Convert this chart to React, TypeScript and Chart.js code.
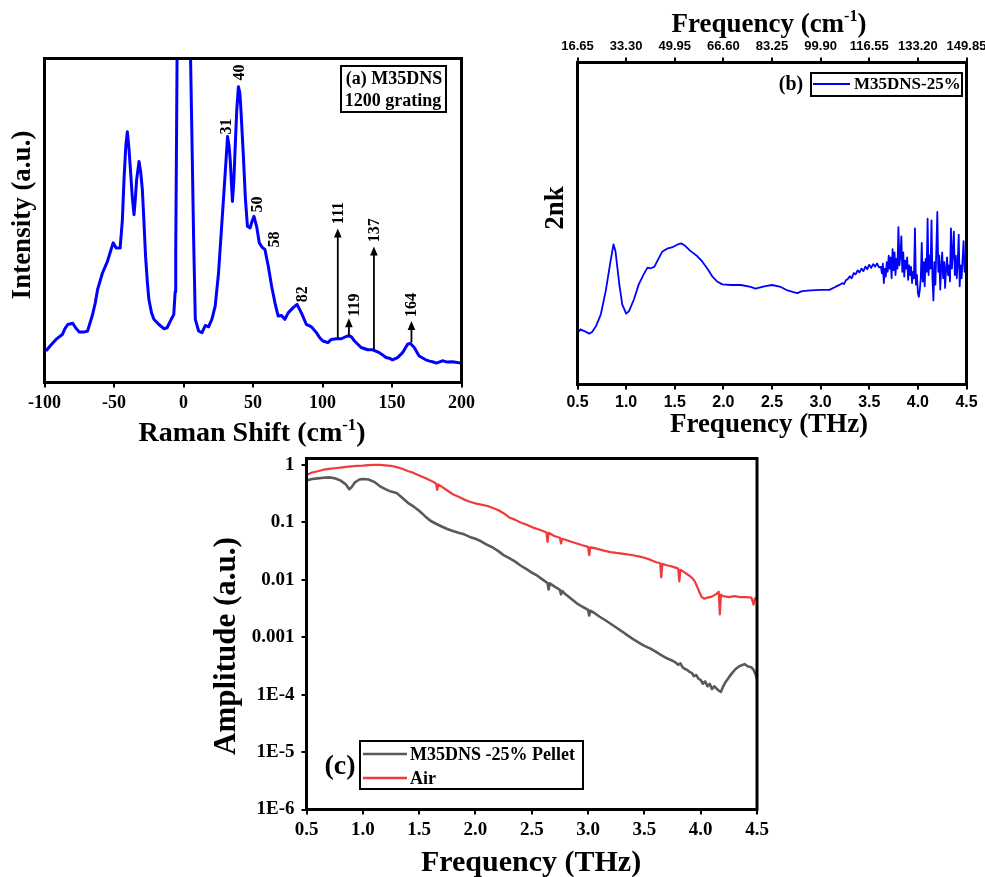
import React, { useEffect, useRef } from "react";
import { Chart, registerables } from "chart.js";

Chart.register(...registerables);

const SERIF = '"Liberation Serif", "Times New Roman", Times, serif';
const SANS = '"Liberation Sans", Arial, Helvetica, sans-serif';

// ---------------- (a) Raman spectrum ----------------
const ramanShift = [
  -99.0, -95.5, -91.7, -87.0, -85.5, -83.3, -79.7, -77.5, -75.0, -71.0, -69.0, -65.4, -63.5, -61.8,
  -58.3, -54.7, -52.5, -50.6, -48.5, -45.6, -44.0, -42.8, -41.5, -40.4, -39.2, -38.0, -36.8, -35.6,
  -34.6, -33.7, -32.0, -30.8, -29.6, -28.5, -27.3, -26.0, -24.9, -23.0, -21.3, -17.7, -14.1, -11.8,
  -9.4, -7.0, -6.0, -5.6, -5.1, -4.6, 0.0, 5.0, 6.1, 7.3, 8.5, 10.9, 13.3, 15.7, 18.0, 20.4, 22.8,
  25.2, 27.6, 30.0, 31.7, 32.8, 33.6, 35.2, 36.2, 37.1, 38.3, 39.5, 40.5, 41.2, 43.1, 44.5, 46.0,
  47.9, 49.5, 50.7, 52.6, 54.5, 56.5, 58.6, 61.0, 63.4, 65.8, 68.1, 70.5, 72.9, 75.3, 78.9, 81.7,
  84.8, 88.4, 90.0, 92.0, 95.6, 98.0, 100.3, 103.9, 106.3, 109.9, 113.5, 117.0, 119.4, 121.0, 123.0,
  127.8, 132.5, 136.1, 140.9, 143.0, 145.7, 148.0, 150.4, 154.0, 157.6, 161.2, 163.1, 166.0, 169.5,
  174.3, 177.0, 179.1, 182.0, 186.2, 190.0, 193.4, 197.0, 200.0,
];
const ramanIntensity = [
  9.7, 11.5, 13.3, 14.9, 16.5, 17.9, 18.3, 16.8, 15.6, 15.6, 15.9, 21.0, 24.5, 28.7,
  33.8, 37.4, 40.5, 43.1, 41.5, 41.5, 50.0, 62.6, 73.0, 77.4, 72.0, 64.6, 57.0, 51.8,
  57.0, 62.6, 68.2, 65.0, 59.5, 50.0, 39.0, 31.0, 25.6, 21.5, 19.5, 17.9, 16.6, 16.9,
  19.0, 21.0, 28.0, 40.0, 70.0, 102, 400, 102, 74.9, 44.0, 19.5, 15.9, 15.4, 17.6, 17.2, 19.5, 23.6,
  33.8, 49.2, 64.6, 75.9, 73.0, 68.7, 55.9, 62.0, 71.8, 84.0, 91.3, 89.5, 85.1, 69.7, 57.0, 48.2,
  47.7, 50.0, 51.3, 48.2, 43.1, 41.8, 41.0, 35.9, 29.7, 24.6, 20.5, 20.7, 19.5, 21.5, 23.1, 24.1,
  21.5, 17.9, 17.6, 17.2, 15.4, 13.8, 12.8, 12.3, 13.3, 13.5, 13.5, 14.2, 14.4, 14.0, 12.8,
  10.8, 10.1, 10.1, 9.2, 8.6, 7.7, 7.5, 7.0, 7.7, 9.2, 11.8, 12.1, 10.8, 8.2,
  7.0, 6.6, 6.4, 6.0, 6.7, 6.3, 6.4, 6.2, 5.9,
];
const ramanTicks = [-100, -50, 0, 50, 100, 150, 200];
const peakLabels = ["31", "40", "50", "58", "82", "111", "119", "137", "164"];
const peakLabelShift = [31.0, 40.5, 53.8, 65.8, 86.0, 111.8, 123.0, 138.0, 164.0];
const peakLabelLevel = [79.0, 95.7, 54.9, 44.1, 27.2, 52.3, 23.9, 47.0, 23.9];
const arrowShift = [111, 119, 137, 164];
const arrowBase = [13.8, 14.6, 10.2, 12.4];
const arrowTip = [47.5, 19.8, 42.0, 19.0];

// ---------------- (b) 2nk ----------------
const nkFreq = [
  0.50, 0.53, 0.57, 0.62, 0.65, 0.69, 0.74, 0.79, 0.84, 0.87, 0.89, 0.93, 0.96, 1.00, 1.03, 1.08,
  1.13, 1.18, 1.22, 1.25, 1.29, 1.32, 1.37, 1.43, 1.48, 1.53, 1.57, 1.61, 1.66, 1.73, 1.78, 1.84,
  1.89, 1.94, 1.99, 2.08, 2.18, 2.28, 2.33, 2.42, 2.50, 2.59, 2.66, 2.72, 2.76, 2.81, 2.90, 3.00,
  3.09, 3.15, 3.20, 3.22, 3.24, 3.26, 3.28, 3.30, 3.32, 3.34, 3.36, 3.38, 3.40, 3.42, 3.44, 3.46,
  3.48, 3.50, 3.52, 3.54, 3.56, 3.58, 3.60,
  3.62, 3.63, 3.64, 3.65, 3.66, 3.67, 3.68, 3.69, 3.70, 3.71, 3.72, 3.73, 3.74, 3.75, 3.76, 3.77,
  3.78, 3.79, 3.80, 3.81, 3.82, 3.83, 3.84, 3.85, 3.86, 3.87, 3.88, 3.89, 3.90, 3.91, 3.92, 3.93,
  3.94, 3.95, 3.96, 3.97, 3.98, 3.99, 4.00, 4.01, 4.02, 4.03, 4.04, 4.05, 4.06, 4.07, 4.08, 4.09,
  4.10, 4.11, 4.12, 4.13, 4.14, 4.15, 4.16, 4.17, 4.18, 4.19, 4.20, 4.21, 4.22, 4.23, 4.24, 4.25,
  4.26, 4.27, 4.28, 4.29, 4.30, 4.31, 4.32, 4.33, 4.34, 4.35, 4.36, 4.37, 4.38, 4.39, 4.40, 4.41,
  4.42, 4.43, 4.44, 4.45, 4.46, 4.47, 4.48, 4.49, 4.50,
];
const nkValue = [
  16.0, 17.1, 16.6, 15.8, 16.3, 18.1, 21.8, 29.0, 38.3, 43.5, 41.5, 31.1, 24.9, 22.0, 22.8, 26.4,
  31.1, 34.2, 36.3, 36.1, 36.5, 38.3, 41.2, 42.3, 42.7, 43.5, 43.8, 43.0, 41.5, 39.9, 38.3, 35.8,
  33.4, 31.9, 31.1, 30.9, 30.9, 30.3, 29.8, 30.5, 30.9, 30.3, 29.2, 28.7, 28.4, 29.0, 29.2, 29.4,
  29.4, 30.3, 31.0, 31.5, 31.2, 32.4, 32.8, 33.6, 33.0, 34.6, 34.2, 35.4, 34.8, 36.0, 35.2, 36.6,
  35.8, 37.2, 36.2, 37.4, 36.6, 37.6, 36.4,
  36.5, 34.5, 37.5, 31.5, 36.0, 33.5, 38.0, 35.0, 40.0, 36.0, 39.5, 33.0, 42.0, 35.5, 41.0, 34.0,
  39.0, 36.0, 48.9, 37.0, 40.0, 46.0, 35.0, 41.0, 33.5, 38.5, 36.0, 39.5, 32.5, 37.0, 34.0, 36.5,
  31.5, 35.0, 33.0, 48.5, 31.0, 34.0, 28.5, 27.2, 29.5, 33.0, 44.0, 32.0, 38.0, 30.5, 39.0, 35.0,
  51.5, 34.0, 40.0, 36.0, 51.0, 33.0, 26.1, 38.0, 31.0, 42.0, 53.6, 35.0, 40.0, 29.5, 36.5, 41.0,
  33.0, 38.0, 30.0, 36.0, 39.5, 34.0, 37.0, 32.0, 48.5, 36.0, 41.0, 47.5, 34.0, 40.0, 33.0, 38.0,
  46.5, 30.5, 37.0, 33.0, 39.0, 44.5, 35.0, 40.0, 36.0,
];
const thzTicks = [0.5, 1.0, 1.5, 2.0, 2.5, 3.0, 3.5, 4.0, 4.5];
const thzTickLabels = ["0.5", "1.0", "1.5", "2.0", "2.5", "3.0", "3.5", "4.0", "4.5"];
const wavenumberTickLabels = ["16.65", "33.30", "49.95", "66.60", "83.25", "99.90", "116.55", "133.20", "149.85"];

// ---------------- (c) amplitude spectra ----------------
const pelletFreq = [
  0.50, 0.55, 0.60, 0.65, 0.70, 0.75, 0.80, 0.85, 0.88, 0.90, 0.93, 0.97, 1.00, 1.05, 1.10, 1.15,
  1.20, 1.25, 1.30, 1.35, 1.40, 1.45, 1.50, 1.55, 1.60, 1.65, 1.70, 1.75, 1.80, 1.85, 1.90, 1.95,
  2.00, 2.05, 2.10, 2.15, 2.20, 2.25, 2.30, 2.35, 2.40, 2.45, 2.50, 2.55, 2.60, 2.64, 2.65, 2.66,
  2.70, 2.75, 2.76, 2.77, 2.80, 2.85, 2.90, 2.95, 3.00, 3.01, 3.02, 3.05, 3.10, 3.15, 3.20, 3.25,
  3.30, 3.35, 3.40, 3.45, 3.50, 3.55, 3.60, 3.65, 3.70, 3.75, 3.78, 3.80, 3.82, 3.84, 3.86, 3.88,
  3.90, 3.92, 3.94, 3.96, 3.98, 4.00, 4.02, 4.04, 4.06, 4.08, 4.10, 4.12, 4.14, 4.16, 4.18, 4.20,
  4.22, 4.25, 4.28, 4.31, 4.34, 4.37, 4.39, 4.42, 4.45, 4.47, 4.49, 4.50,
];
const pelletAmp = [
  0.54, 0.57, 0.585, 0.60, 0.61, 0.59, 0.54, 0.46, 0.38, 0.41, 0.50, 0.56, 0.57, 0.56, 0.51, 0.43,
  0.38, 0.345, 0.325, 0.27, 0.22, 0.19, 0.16, 0.13, 0.107, 0.095, 0.085, 0.077, 0.071, 0.066, 0.062, 0.056,
  0.052, 0.047, 0.041, 0.037, 0.032, 0.027, 0.024, 0.021, 0.0178, 0.0155, 0.0134, 0.0118, 0.0100, 0.0088, 0.0068, 0.0087,
  0.0077, 0.0067, 0.0056, 0.0064, 0.0056, 0.0047, 0.0039, 0.0034, 0.0030, 0.0024, 0.0029, 0.0027, 0.0023, 0.0020, 0.00172, 0.00148,
  0.00127, 0.00108, 0.00093, 0.00081, 0.00071, 0.00064, 0.00056, 0.00049, 0.00043, 0.00039, 0.00036, 0.00033, 0.00035, 0.00030, 0.00028, 0.00027,
  0.00025, 0.00024, 0.00021, 0.00022, 0.00019, 0.00018, 0.000155, 0.00017, 0.00014, 0.000155, 0.000125, 0.00014, 0.000128, 0.000118, 0.000112, 0.00014,
  0.000165, 0.00020, 0.00024, 0.00028, 0.00031, 0.00033, 0.00034, 0.00031, 0.00030, 0.00027, 0.00022, 0.00019,
];
const airFreq = [
  0.50, 0.52, 0.55, 0.60, 0.65, 0.70, 0.75, 0.80, 0.85, 0.90, 0.95, 1.00, 1.05, 1.10, 1.15, 1.20,
  1.25, 1.30, 1.35, 1.40, 1.45, 1.50, 1.55, 1.60, 1.64, 1.65, 1.66, 1.67, 1.70, 1.75, 1.80, 1.85,
  1.90, 1.95, 2.00, 2.05, 2.10, 2.15, 2.20, 2.25, 2.30, 2.35, 2.40, 2.45, 2.50, 2.55, 2.60, 2.63,
  2.64, 2.65, 2.70, 2.75, 2.76, 2.77, 2.80, 2.85, 2.90, 2.95, 3.00, 3.01, 3.02, 3.05, 3.10, 3.15,
  3.20, 3.25, 3.30, 3.35, 3.40, 3.45, 3.50, 3.55, 3.60, 3.64, 3.65, 3.66, 3.70, 3.75, 3.80, 3.81,
  3.82, 3.85, 3.90, 3.93, 3.95, 3.97, 3.99, 4.01, 4.03, 4.06, 4.10, 4.14, 4.16, 4.17, 4.18, 4.20,
  4.25, 4.30, 4.35, 4.40, 4.45, 4.47, 4.48, 4.50,
];
const airAmp = [
  0.66, 0.70, 0.74, 0.78, 0.83, 0.86, 0.88, 0.90, 0.93, 0.95, 0.97, 0.98, 1.00, 1.01, 1.01, 0.99,
  0.97, 0.92, 0.86, 0.79, 0.73, 0.66, 0.60, 0.54, 0.49, 0.47, 0.37, 0.46, 0.42, 0.36, 0.31, 0.28,
  0.25, 0.23, 0.215, 0.205, 0.195, 0.18, 0.165, 0.145, 0.122, 0.112, 0.10, 0.092, 0.083, 0.077, 0.071, 0.067,
  0.046, 0.066, 0.058, 0.054, 0.043, 0.052, 0.050, 0.046, 0.043, 0.040, 0.0375, 0.027, 0.037, 0.036, 0.034, 0.032,
  0.0305, 0.0295, 0.0287, 0.0278, 0.0268, 0.0256, 0.0243, 0.0225, 0.0205, 0.0195, 0.011, 0.019, 0.018, 0.017, 0.0157, 0.0094,
  0.015, 0.0138, 0.0118, 0.0105, 0.0092, 0.0075, 0.0060, 0.0050, 0.0047, 0.0049, 0.0051, 0.0057, 0.0062, 0.0025, 0.0055, 0.0052,
  0.0050, 0.0052, 0.0050, 0.0050, 0.0049, 0.0037, 0.0047, 0.0050,
];
const ampTicks = [1, 0.1, 0.01, 0.001, 1e-4, 1e-5, 1e-6];
const ampTickLabels = ["1", "0.1", "0.01", "0.001", "1E-4", "1E-5", "1E-6"];

// ---------------- helpers ----------------
type Part = [string, boolean];

function drawTitle(ctx: CanvasRenderingContext2D, parts: Part[], cx: number, cy: number, size: number, rotated = false) {
  ctx.save();
  ctx.translate(cx, cy);
  if (rotated) ctx.rotate(-Math.PI / 2);
  const font = (s: number) => `bold ${s}px ${SERIF}`;
  let total = 0;
  const widths = parts.map(([t, sup]) => {
    ctx.font = font(sup ? size * 0.6 : size);
    const w = ctx.measureText(t).width;
    total += w;
    return w;
  });
  let x = -total / 2;
  ctx.fillStyle = "#000";
  ctx.textAlign = "left";
  ctx.textBaseline = "alphabetic";
  const base = size * 0.33;
  parts.forEach(([t, sup], i) => {
    ctx.font = font(sup ? size * 0.6 : size);
    ctx.fillText(t, x, sup ? base - size * 0.4 : base);
    x += widths[i];
  });
  ctx.restore();
}

function drawText(ctx: CanvasRenderingContext2D, t: string, x: number, y: number, font: string, align: CanvasTextAlign = "left") {
  ctx.save();
  ctx.font = font;
  ctx.fillStyle = "#000";
  ctx.textAlign = align;
  ctx.textBaseline = "middle";
  ctx.fillText(t, x, y);
  ctx.restore();
}

const framePlugin = {
  id: "frame",
  afterDatasetsDraw(chart: any) {
    const { ctx, chartArea: a } = chart;
    ctx.save();
    ctx.strokeStyle = "#000";
    ctx.lineWidth = 3;
    ctx.strokeRect(a.left, a.top, a.right - a.left, a.bottom - a.top);
    ctx.restore();
  },
};

const tickGrid = { display: true, drawOnChartArea: false, drawTicks: true, tickLength: 5, lineWidth: 2, color: "#000" };

function fixedTicks(values: number[]) {
  return (scale: any) => {
    scale.ticks = values.map((v) => ({ value: v }));
  };
}

function fixHeight(h: number) {
  return (s: any) => {
    s.height = h;
    s.paddingLeft = 0;
    s.paddingRight = 0;
  };
}

function fixWidth(w: number) {
  return (s: any) => {
    s.width = w;
    s.paddingTop = 0;
    s.paddingBottom = 0;
  };
}

export default function App() {
  const refA = useRef<HTMLCanvasElement>(null);
  const refB = useRef<HTMLCanvasElement>(null);
  const refC = useRef<HTMLCanvasElement>(null);

  useEffect(() => {
    const charts: Chart[] = [];

    // ---------- (a) ----------
    const annotA = {
      id: "annotA",
      afterDraw(chart: any) {
        const { ctx } = chart;
        const xs = chart.scales.x;
        const ys = chart.scales.y;
        ctx.save();
        ctx.strokeStyle = "#000";
        ctx.fillStyle = "#000";
        ctx.lineWidth = 1.8;
        arrowShift.forEach((xv, i) => {
          const px = xs.getPixelForValue(xv);
          const y0 = ys.getPixelForValue(arrowBase[i]);
          const y1 = ys.getPixelForValue(arrowTip[i]);
          ctx.beginPath();
          ctx.moveTo(px, y0);
          ctx.lineTo(px, y1 + 6);
          ctx.stroke();
          ctx.beginPath();
          ctx.moveTo(px, y1);
          ctx.lineTo(px - 3.8, y1 + 9);
          ctx.lineTo(px + 3.8, y1 + 9);
          ctx.closePath();
          ctx.fill();
        });
        peakLabels.forEach((t, i) => {
          const px = xs.getPixelForValue(peakLabelShift[i]);
          const py = ys.getPixelForValue(peakLabelLevel[i]);
          ctx.save();
          ctx.translate(px, py);
          ctx.rotate(-Math.PI / 2);
          ctx.font = `bold 16px ${SERIF}`;
          ctx.textAlign = "center";
          ctx.textBaseline = "middle";
          ctx.fillText(t, 0, 0);
          ctx.restore();
        });
        ctx.restore();
        // legend box
        ctx.save();
        ctx.fillStyle = "#fff";
        ctx.fillRect(341, 26, 105, 46);
        ctx.strokeStyle = "#000";
        ctx.lineWidth = 2;
        ctx.strokeRect(341, 26, 105, 46);
        ctx.restore();
        drawText(ctx, "(a) M35DNS", 394, 39, `bold 18px ${SERIF}`, "center");
        drawText(ctx, "1200 grating", 393, 61, `bold 18px ${SERIF}`, "center");
        // axis titles
        drawTitle(ctx, [["Raman Shift (cm", false], ["-1", true], [")", false]], 252, 392, 28);
        drawTitle(ctx, [["Intensity (a.u.)", false]], 21, 175, 27, true);
      },
    };

    if (refA.current) {
      charts.push(
        new Chart(refA.current, {
          type: "line",
          data: {
            datasets: [
              {
                data: ramanShift.map((x, i) => ({ x, y: ramanIntensity[i] })),
                borderColor: "#0000ff",
                borderWidth: 3,
                borderJoinStyle: "round",
                pointRadius: 0,
                tension: 0,
              },
            ],
          },
          options: {
            animation: false,
            responsive: false,
            events: [],
            layout: { padding: { left: 44.5, top: 18.5, right: 23.5, bottom: 0 } },
            plugins: { legend: { display: false }, tooltip: { enabled: false } },
            scales: {
              x: {
                type: "linear",
                min: -100,
                max: 200,
                afterBuildTicks: fixedTicks(ramanTicks),
                afterFit: fixHeight(77.5),
                grid: tickGrid,
                border: { display: false },
                ticks: {
                  autoSkip: false,
                  maxRotation: 0,
                  padding: 5,
                  color: "#000",
                  font: { family: SERIF, size: 18, weight: "bold" },
                  callback: (v: any) => String(v),
                },
              },
              y: { type: "linear", display: false, min: 0, max: 100 },
            },
          },
          plugins: [framePlugin, annotA],
        } as any)
      );
    }

    // ---------- (b) ----------
    const annotB = {
      id: "annotB",
      afterDraw(chart: any) {
        const { ctx } = chart;
        drawTitle(ctx, [["Frequency (cm", false], ["-1", true], [")", false]], 249, 23, 27);
        drawTitle(ctx, [["Frequency (THz)", false]], 249, 423, 27);
        drawTitle(ctx, [["2nk", false]], 34, 208, 27, true);
        drawText(ctx, "(b)", 271, 85, `bold 20px ${SERIF}`, "center");
        ctx.save();
        ctx.fillStyle = "#fff";
        ctx.fillRect(291, 73, 151, 23);
        ctx.strokeStyle = "#000";
        ctx.lineWidth = 2;
        ctx.strokeRect(291, 73, 151, 23);
        ctx.strokeStyle = "#0000ff";
        ctx.lineWidth = 2;
        ctx.beginPath();
        ctx.moveTo(293, 84);
        ctx.lineTo(330, 84);
        ctx.stroke();
        ctx.restore();
        drawText(ctx, "M35DNS-25%", 334, 85, `bold 17px ${SERIF}`);
      },
    };

    if (refB.current) {
      charts.push(
        new Chart(refB.current, {
          type: "line",
          data: {
            datasets: [
              {
                data: nkFreq.map((x, i) => ({ x, y: nkValue[i] })),
                borderColor: "#0000ff",
                borderWidth: 1.8,
                borderJoinStyle: "round",
                pointRadius: 0,
                tension: 0,
                xAxisID: "x",
                yAxisID: "y",
              },
            ],
          },
          options: {
            animation: false,
            responsive: false,
            events: [],
            layout: { padding: { left: 57.5, top: 0, right: 18.5, bottom: 0 } },
            plugins: { legend: { display: false }, tooltip: { enabled: false } },
            scales: {
              x: {
                type: "linear",
                position: "bottom",
                min: 0.5,
                max: 4.5,
                afterBuildTicks: fixedTicks(thzTicks),
                afterFit: fixHeight(55.5),
                grid: tickGrid,
                border: { display: false },
                ticks: {
                  autoSkip: false,
                  maxRotation: 0,
                  padding: 3,
                  color: "#000",
                  font: { family: SANS, size: 16, weight: "bold" },
                  callback: (_v: any, i: number) => thzTickLabels[i],
                },
              },
              x2: {
                type: "linear",
                position: "top",
                min: 0.5,
                max: 4.5,
                afterBuildTicks: fixedTicks(thzTicks),
                afterFit: fixHeight(62.5),
                grid: tickGrid,
                border: { display: false },
                ticks: {
                  autoSkip: false,
                  maxRotation: 0,
                  padding: 3,
                  color: "#000",
                  font: { family: SANS, size: 13, weight: "bold" },
                  callback: (_v: any, i: number) => wavenumberTickLabels[i],
                },
              },
              y: { type: "linear", display: false, min: 0, max: 100 },
            },
          },
          plugins: [framePlugin, annotB],
        } as any)
      );
    }

    // ---------- (c) ----------
    const annotC = {
      id: "annotC",
      afterDraw(chart: any) {
        const { ctx } = chart;
        drawTitle(ctx, [["Frequency (THz)", false]], 331, 421, 30);
        drawTitle(ctx, [["Amplitude (a.u.)", false]], 25, 206, 31, true);
        ctx.save();
        ctx.fillStyle = "#fff";
        ctx.fillRect(160, 301, 223, 48);
        ctx.strokeStyle = "#000";
        ctx.lineWidth = 2;
        ctx.strokeRect(160, 301, 223, 48);
        ctx.lineWidth = 2.6;
        ctx.strokeStyle = "#5a5a5a";
        ctx.beginPath();
        ctx.moveTo(163, 314);
        ctx.lineTo(207, 314);
        ctx.stroke();
        ctx.strokeStyle = "#ef3b3b";
        ctx.beginPath();
        ctx.moveTo(163, 338);
        ctx.lineTo(207, 338);
        ctx.stroke();
        ctx.restore();
        drawText(ctx, "M35DNS -25% Pellet", 210, 315, `bold 18px ${SERIF}`);
        drawText(ctx, "Air", 210, 339, `bold 18px ${SERIF}`);
        drawText(ctx, "(c)", 140, 327, `bold 28px ${SERIF}`, "center");
      },
    };

    if (refC.current) {
      charts.push(
        new Chart(refC.current, {
          type: "line",
          data: {
            datasets: [
              {
                label: "M35DNS -25% Pellet",
                data: pelletFreq.map((x, i) => ({ x, y: pelletAmp[i] })),
                borderColor: "#5a5a5a",
                borderWidth: 2.6,
                borderJoinStyle: "round",
                pointRadius: 0,
                tension: 0,
              },
              {
                label: "Air",
                data: airFreq.map((x, i) => ({ x, y: airAmp[i] })),
                borderColor: "#ef3b3b",
                borderWidth: 2.2,
                borderJoinStyle: "round",
                pointRadius: 0,
                tension: 0,
              },
            ],
          },
          options: {
            animation: false,
            responsive: false,
            events: [],
            layout: { padding: { left: 0, top: 18.5, right: 28, bottom: 0 } },
            plugins: { legend: { display: false }, tooltip: { enabled: false } },
            scales: {
              x: {
                type: "linear",
                min: 0.5,
                max: 4.5,
                afterBuildTicks: fixedTicks(thzTicks),
                afterFit: fixHeight(67.5),
                grid: tickGrid,
                border: { display: false },
                ticks: {
                  autoSkip: false,
                  maxRotation: 0,
                  padding: 4,
                  color: "#000",
                  font: { family: SERIF, size: 19, weight: "bold" },
                  callback: (_v: any, i: number) => thzTickLabels[i],
                },
              },
              y: {
                type: "logarithmic",
                min: 1e-6,
                max: 1.3,
                afterBuildTicks: fixedTicks(ampTicks),
                afterFit: fixWidth(106.5),
                grid: tickGrid,
                border: { display: false },
                ticks: {
                  autoSkip: false,
                  padding: 7,
                  color: "#000",
                  font: { family: SERIF, size: 19, weight: "bold" },
                  callback: (_v: any, i: number) => ampTickLabels[i],
                },
              },
            },
          },
          plugins: [framePlugin, annotC],
        } as any)
      );
    }

    return () => {
      charts.forEach((c) => c.destroy());
    };
  }, []);

  return (
    <div
      style={{
        position: "absolute",
        left: 0,
        top: 0,
        width: 985,
        height: 877,
        background: "#fff",
        overflow: "hidden",
      }}
    >
      <canvas ref={refA} width={485} height={420} style={{ position: "absolute", left: 0, top: 40 }} />
      <canvas ref={refB} width={465} height={440} style={{ position: "absolute", left: 520, top: 0 }} />
      <canvas ref={refC} width={585} height={437} style={{ position: "absolute", left: 200, top: 440 }} />
    </div>
  );
}
